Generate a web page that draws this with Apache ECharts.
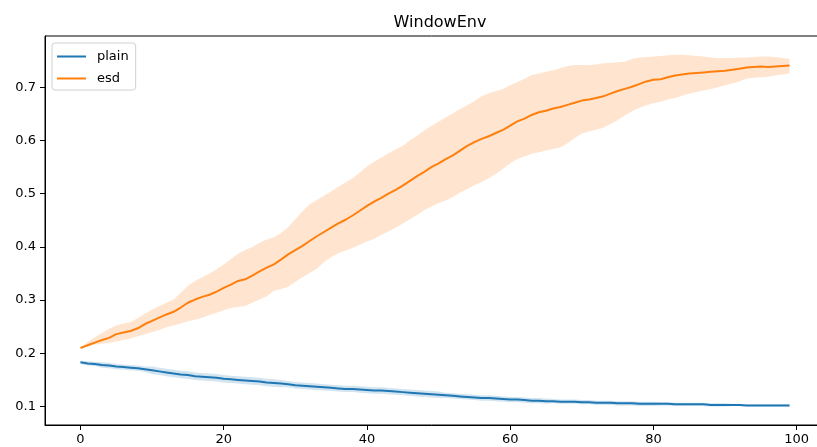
<!DOCTYPE html>
<html>
<head>
<meta charset="utf-8">
<script src="https://cdn.jsdelivr.net/npm/echarts@6/dist/echarts.min.js"></script>
<style>
html, body { margin: 0; padding: 0; background: #fff; }
#main { width: 817px; height: 447px; }
</style>
</head>
<body>
<div id="main"></div>
<script>
// x ticks / y ticks
var xTicks = [0, 20, 40, 60, 80, 100];
var yTicks = [0.1, 0.2, 0.3, 0.4, 0.5, 0.6, 0.7];

// plain: mean and half band width
var plainMean = [
	0.183, 0.181, 0.180, 0.178, 0.177, 0.175, 0.174, 0.173, 0.172, 0.170,
	0.168, 0.166, 0.164, 0.162, 0.160, 0.159, 0.157, 0.156, 0.155, 0.154,
	0.152, 0.151, 0.150, 0.149, 0.148, 0.147, 0.145, 0.144, 0.143, 0.142,
	0.140, 0.139, 0.138, 0.137, 0.136, 0.135, 0.134, 0.133, 0.133, 0.132,
	0.131, 0.130, 0.130, 0.129, 0.128, 0.127, 0.126, 0.125, 0.124, 0.123,
	0.122, 0.121, 0.120, 0.119, 0.118, 0.117, 0.116, 0.116, 0.115, 0.114,
	0.113, 0.113, 0.112, 0.111, 0.111, 0.110, 0.110, 0.109, 0.109, 0.109,
	0.108, 0.108, 0.107, 0.107, 0.107, 0.106, 0.106, 0.106, 0.105, 0.105,
	0.105, 0.105, 0.105, 0.104, 0.104, 0.104, 0.104, 0.104, 0.103, 0.103,
	0.103, 0.103, 0.103, 0.102, 0.102, 0.102, 0.102, 0.102, 0.102, 0.102
];
var plainSpread = [
	0.003, 0.004, 0.004, 0.005, 0.005, 0.005, 0.005, 0.005, 0.005, 0.005,
	0.007, 0.007, 0.007, 0.007, 0.007, 0.007, 0.007, 0.007, 0.007, 0.007,
	0.007, 0.007, 0.007, 0.007, 0.007, 0.007, 0.007, 0.007, 0.007, 0.006,
	0.006, 0.006, 0.006, 0.006, 0.006, 0.006, 0.006, 0.006, 0.006, 0.006,
	0.006, 0.006, 0.006, 0.006, 0.006, 0.006, 0.006, 0.006, 0.006, 0.006,
	0.006, 0.005, 0.005, 0.005, 0.005, 0.005, 0.005, 0.005, 0.005, 0.005,
	0.005, 0.005, 0.005, 0.005, 0.005, 0.005, 0.004, 0.004, 0.004, 0.004,
	0.004, 0.004, 0.004, 0.004, 0.004, 0.004, 0.004, 0.004, 0.004, 0.004,
	0.004, 0.003, 0.003, 0.003, 0.003, 0.003, 0.003, 0.003, 0.003, 0.003,
	0.003, 0.002, 0.002, 0.002, 0.002, 0.002, 0.002, 0.002, 0.002, 0.002
];

// esd: mean, lower and upper edge of the band
var esdMean = [
	0.210, 0.215, 0.220, 0.225, 0.229, 0.236, 0.239, 0.242, 0.247, 0.255,
	0.261, 0.267, 0.273, 0.278, 0.286, 0.295, 0.301, 0.306, 0.310, 0.316,
	0.323, 0.329, 0.336, 0.339, 0.346, 0.354, 0.361, 0.367, 0.376, 0.386,
	0.394, 0.402, 0.411, 0.420, 0.428, 0.436, 0.444, 0.451, 0.459, 0.468,
	0.477, 0.485, 0.492, 0.500, 0.507, 0.515, 0.524, 0.533, 0.541, 0.550,
	0.557, 0.565, 0.572, 0.581, 0.590, 0.597, 0.603, 0.608, 0.614, 0.620,
	0.628, 0.636, 0.641, 0.648, 0.653, 0.656, 0.660, 0.663, 0.667, 0.671,
	0.675, 0.677, 0.680, 0.683, 0.688, 0.693, 0.697, 0.701, 0.706, 0.711,
	0.714, 0.715, 0.719, 0.722, 0.724, 0.726, 0.727, 0.728, 0.729, 0.730,
	0.731, 0.733, 0.735, 0.737, 0.738, 0.739, 0.738, 0.739, 0.740, 0.741
];
var esdLow = [
	0.210, 0.213, 0.216, 0.218, 0.220, 0.222, 0.225, 0.228, 0.232, 0.236,
	0.240, 0.244, 0.249, 0.252, 0.256, 0.260, 0.263, 0.267, 0.272, 0.276,
	0.281, 0.285, 0.287, 0.289, 0.295, 0.301, 0.307, 0.317, 0.321, 0.325,
	0.334, 0.343, 0.351, 0.359, 0.371, 0.381, 0.388, 0.393, 0.398, 0.404,
	0.410, 0.415, 0.423, 0.429, 0.436, 0.444, 0.452, 0.460, 0.469, 0.476,
	0.482, 0.487, 0.494, 0.502, 0.509, 0.516, 0.522, 0.529, 0.537, 0.547,
	0.557, 0.565, 0.570, 0.575, 0.578, 0.581, 0.584, 0.587, 0.595, 0.604,
	0.613, 0.617, 0.620, 0.624, 0.631, 0.638, 0.647, 0.655, 0.661, 0.666,
	0.670, 0.673, 0.677, 0.680, 0.684, 0.688, 0.691, 0.694, 0.697, 0.700,
	0.704, 0.707, 0.711, 0.716, 0.718, 0.719, 0.720, 0.722, 0.724, 0.726
];
var esdHigh = [
	0.210, 0.221, 0.230, 0.238, 0.246, 0.252, 0.256, 0.259, 0.266, 0.275,
	0.282, 0.289, 0.295, 0.301, 0.314, 0.327, 0.336, 0.343, 0.350, 0.358,
	0.367, 0.377, 0.387, 0.394, 0.400, 0.408, 0.414, 0.418, 0.426, 0.437,
	0.452, 0.467, 0.480, 0.488, 0.496, 0.504, 0.513, 0.521, 0.529, 0.540,
	0.551, 0.560, 0.568, 0.576, 0.583, 0.590, 0.600, 0.609, 0.619, 0.627,
	0.635, 0.643, 0.651, 0.659, 0.666, 0.674, 0.683, 0.689, 0.693, 0.697,
	0.704, 0.710, 0.716, 0.723, 0.726, 0.729, 0.732, 0.736, 0.740, 0.742,
	0.742, 0.742, 0.743, 0.745, 0.746, 0.747, 0.748, 0.753, 0.756, 0.757,
	0.758, 0.759, 0.760, 0.761, 0.761, 0.760, 0.759, 0.758, 0.756, 0.755,
	0.755, 0.755, 0.756, 0.756, 0.757, 0.758, 0.758, 0.757, 0.755, 0.753
];

var myChart = echarts.init(document.getElementById('main'));

function pts(arr) {
	var out = [];
	for (var i = 0; i < arr.length; i++) {
		out.push([i, arr[i]]);
	}
	return out;
}

// shaded band between low and high, drawn once as a polygon through the axes
function band(low, high, color) {
	return {
		type : 'custom',
		silent : true,
		z : 1,
		data : pts(high),
		encode : { x : 0, y : 1 },
		renderItem : function (params, api) {
			if (params.dataIndex !== 0) {
				return;
			}
			var poly = [];
			for (var i = 0; i < high.length; i++) {
				poly.push(api.coord([i, high[i]]));
			}
			for (var j = low.length - 1; j >= 0; j--) {
				poly.push(api.coord([j, low[j]]));
			}
			return {
				type : 'polygon',
				shape : { points : poly },
				style : { fill : color, stroke : null }
			};
		}
	};
}

var plainLow = [], plainHigh = [];
for (var i = 0; i < plainMean.length; i++) {
	plainLow.push(plainMean[i] - plainSpread[i]);
	plainHigh.push(plainMean[i] + plainSpread[i]);
}

var font = 'DejaVu Sans';

var option = {
	animation : false,
	title : {
		text : 'WindowEnv',
		left : 435,
		top : 10,
		textAlign : 'center',
		textStyle : { fontFamily : font, fontSize : 16, fontWeight : 'normal', color : '#000' }
	},
	legend : {
		orient : 'vertical',
		left : 52,
		top : 43,
		padding : [7, 7, 5, 5],
		itemGap : 9,
		itemWidth : 29,
		itemHeight : 2,
		borderColor : '#d0d0d0',
		borderWidth : 1,
		borderRadius : 3,
		backgroundColor : 'rgba(255,255,255,0.8)',
		textStyle : { fontFamily : font, fontSize : 13, color : '#000', padding : [0, 0, 0, 6] },
		data : [
			{ name : 'plain', icon : 'rect' },
			{ name : 'esd', icon : 'rect' }
		]
	},
	// the reference is cut off at the right, past the plot's right edge
	grid : {
		show : true,
		left : 45,
		top : 36,
		width : 780,
		bottom : 22,
		outerBoundsMode : 'none',
		containLabel : false,
		borderColor : '#000',
		borderWidth : 1,
		backgroundColor : 'transparent'
	},
	xAxis : {
		type : 'value',
		min : -4.95,
		max : 103.95,
		splitLine : { show : false },
		axisLine : { show : true, onZero : false, lineStyle : { color : '#000', width : 1 } },
		axisTick : { show : true, length : 5, customValues : xTicks, lineStyle : { color : '#000' } },
		axisLabel : {
			customValues : xTicks, margin : 8, color : '#000',
			fontFamily : font, fontSize : 13
		}
	},
	yAxis : {
		type : 'value',
		min : 0.0652,
		max : 0.7964,
		splitLine : { show : false },
		axisLine : { show : true, onZero : false, lineStyle : { color : '#000', width : 1 } },
		axisTick : { show : true, length : 5, customValues : yTicks, lineStyle : { color : '#000' } },
		axisLabel : {
			customValues : yTicks, margin : 9, color : '#000',
			fontFamily : font, fontSize : 13,
			formatter : function (v) { return v.toFixed(1); }
		}
	},
	series : [
		band(plainLow, plainHigh, 'rgba(31,119,180,0.2)'),
		band(esdLow, esdHigh, 'rgba(255,127,14,0.2)'),
		{
			name : 'plain', type : 'line', data : pts(plainMean), symbol : 'none',
			color : '#1f77b4', lineStyle : { width : 2, color : '#1f77b4' }, z : 3
		},
		{
			name : 'esd', type : 'line', data : pts(esdMean), symbol : 'none',
			color : '#ff7f0e', lineStyle : { width : 2, color : '#ff7f0e' }, z : 3
		}
	]
};
myChart.setOption(option);
</script>
</body>
</html>
